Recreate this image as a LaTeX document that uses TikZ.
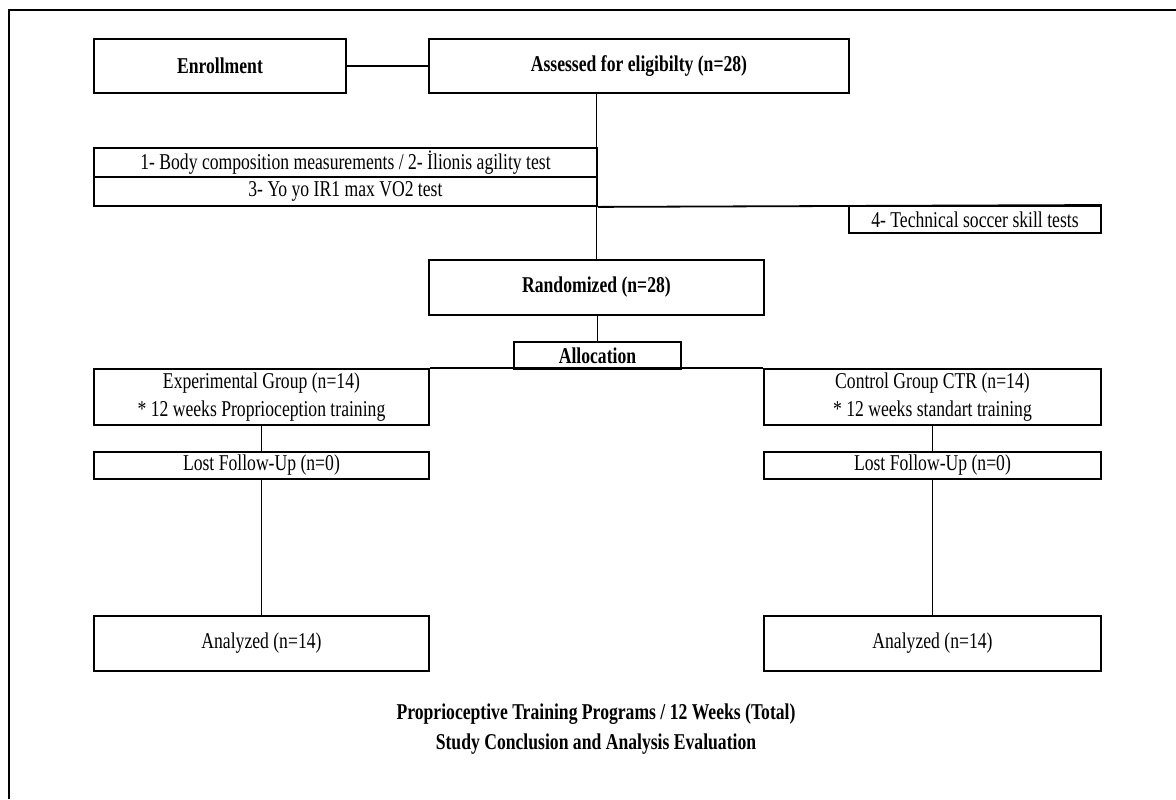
\documentclass[tikz,border=0pt]{standalone}
\usepackage{fontspec}
\setmainfont{Liberation Serif}[FakeStretch=0.78]
\usetikzlibrary{positioning}

\tikzset{
    box/.style={draw, line width=0.95pt, inner sep=0pt, anchor=north west,
                font=\fontsize{11.3}{13.5}\selectfont, align=center},
    boldbox/.style={box, font=\fontsize{11.3}{13.5}\selectfont\bfseries},
    link/.style={line width=0.9pt}
}

\begin{document}
\begin{tikzpicture}[x=0.5pt, y=-0.5pt]
    \useasboundingbox (0,0) rectangle (1176,799);
    \draw[line width=0.9pt] (9,799) -- (9,10) -- (1176,10);

    \node[boldbox, minimum width=126pt, minimum height=27pt] (enrol) at (93,38) {Enrollment};
    \node[boldbox, minimum width=210pt, minimum height=27pt] (assess) at (428,38) {Assessed for eligibilty (n=28)};
    \node[box, minimum width=251.5pt, minimum height=14.5pt] (testa) at (93,147) {1- Body composition measurements / 2- İlionis agility test};
    \node[box, minimum width=251.5pt, minimum height=14.5pt] (testb) at (93,176) {3- Yo yo IR1 max VO2 test};
    \node[box, minimum width=126pt, minimum height=13.5pt] (skill) at (848,205) {4- Technical soccer skill tests};
    \node[boldbox, minimum width=167.5pt, minimum height=27.5pt] (rand) at (428,259) {Randomized (n=28)};
    \node[boldbox, minimum width=83.5pt, minimum height=13.5pt] (alloc) at (513,341) {Allocation};
    \node[box, minimum width=167.5pt, minimum height=28pt] (expg) at (93,368) {Experimental Group (n=14)\\[0.5pt] * 12 weeks Proprioception training};
    \node[box, minimum width=168.5pt, minimum height=28pt] (ctrl) at (763,368) {Control Group CTR (n=14)\\[0.5pt] * 12 weeks standart training};
    \node[box, minimum width=167.5pt, minimum height=13.5pt] (lostE) at (93,451) {Lost Follow-Up (n=0)};
    \node[box, minimum width=168.5pt, minimum height=13.5pt] (lostC) at (763,451) {Lost Follow-Up (n=0)};
    \node[box, minimum width=167.5pt, minimum height=27.5pt] (anaE) at (93,615) {Analyzed (n=14)};
    \node[box, minimum width=168.5pt, minimum height=27.5pt] (anaC) at (763,615) {Analyzed (n=14)};
    \node[font=\fontsize{11.3}{15}\selectfont\bfseries, align=center] (summary) at (596,729)
        {Proprioceptive Training Programs / 12 Weeks (Total)\\Study Conclusion and Analysis Evaluation};

    \draw[link] (enrol.east) -- (assess.west);
    \draw[link] (rand.north |- assess.south) -- (rand.north);
    \draw[link] (testb.south east) -- (skill.north east);
    \draw[link] (alloc.north |- rand.south) -- (alloc.north);
    \draw[link] (expg.north east) -- (ctrl.north west);
    \draw[link] (expg.south) -- (lostE.north);
    \draw[link] (lostE.south) -- (anaE.north);
    \draw[link] (ctrl.south) -- (lostC.north);
    \draw[link] (lostC.south) -- (anaC.north);
\end{tikzpicture}
\end{document}
